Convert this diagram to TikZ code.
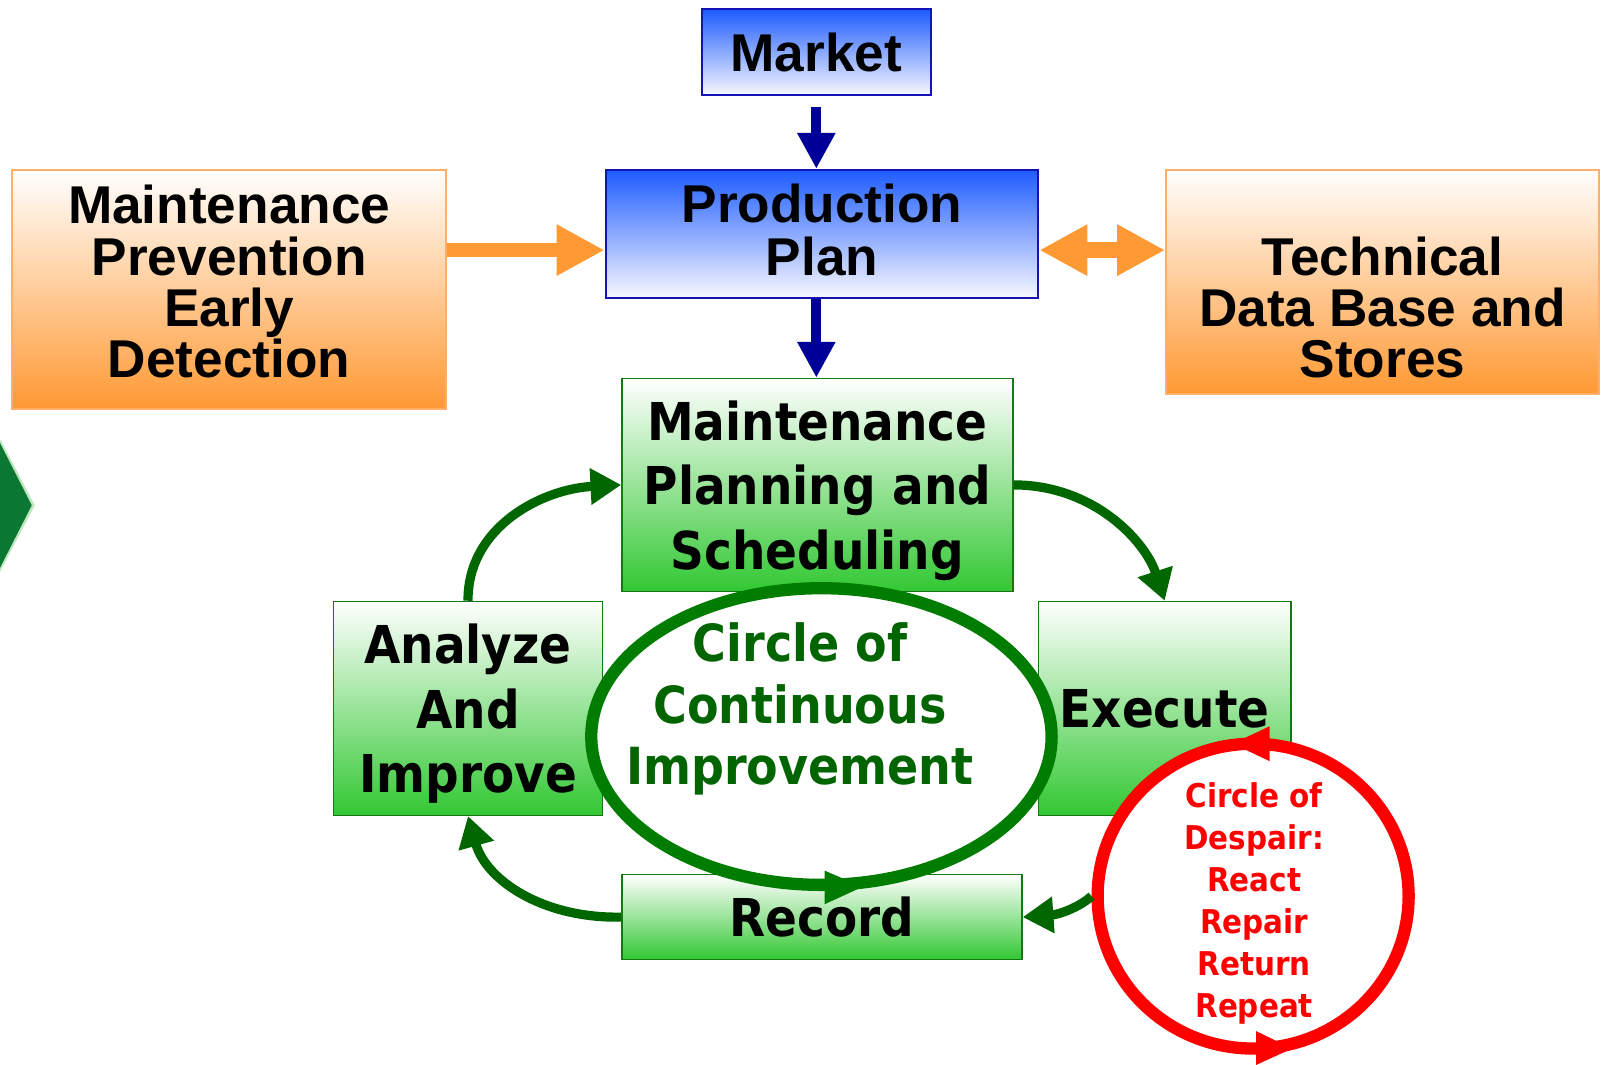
\documentclass[tikz,border=0pt]{standalone}
\usepackage{fontspec}
\setmainfont{Liberation Sans}
\newfontfamily\gfont[FakeStretch=0.9]{DejaVu Sans}
\usetikzlibrary{arrows.meta,shapes.geometric,calc,shadings}
\definecolor{btop}{RGB}{30,92,255}
\definecolor{bdr}{RGB}{20,20,180}
\definecolor{orng}{RGB}{255,153,51}
\definecolor{obdr}{RGB}{255,175,105}
\definecolor{gbot}{RGB}{50,200,50}
\definecolor{gbdr}{RGB}{20,120,20}
\definecolor{arrowgreen}{RGB}{0,102,0}
\definecolor{ellgreen}{RGB}{0,125,0}
\definecolor{ctext}{RGB}{0,100,0}
\definecolor{navy}{RGB}{0,0,153}
\definecolor{dgreen}{RGB}{10,120,50}
\begin{document}
\begin{tikzpicture}[x=1pt,y=-1pt,
  bluebox/.style={draw=bdr, line width=2pt, top color=btop, bottom color=white!97!blue, inner sep=0pt, align=center, font=\fontsize{52}{51}\selectfont\bfseries},
  orangebox/.style={draw=obdr, line width=2pt, top color=white, bottom color=orng, inner sep=0pt, align=center, font=\fontsize{52}{50}\selectfont\bfseries},
  greenbox/.style={draw=gbdr, line width=1.5pt, top color=white, bottom color=gbot, inner sep=0pt, align=center, text depth=0pt, font=\gfont\bfseries\fontsize{51}{63}\selectfont},
  navyarrow/.style={draw=navy, line width=10pt, -{Triangle[length=35pt,width=35pt]}},
  orangearrow/.style={draw=orng, line width=14pt, -{Triangle[length=47pt,width=47pt]}},
  garrow/.style={draw=arrowgreen, line width=9pt, -{Triangle[length=30pt,width=34pt]}},
  loopline/.style={line width=12pt, fill=white, ellipse, inner sep=0pt}
]
\useasboundingbox (0,0) rectangle (1567,1041);

% left partial diamond
\fill[green!60!black!25] (0,429) -- (34,494) -- (0,559) -- cycle;
\fill[dgreen] (0,433) -- (31,494) -- (0,555) -- cycle;

% boxes
\node[bluebox, minimum width=224pt, minimum height=84pt] (market) at (798,51) {Market};
\node[bluebox, minimum width=423pt, minimum height=125pt, text depth=8pt] (pp) at (803.5,228.5) {Production\\Plan};
\node[orangebox, minimum width=424pt, minimum height=234pt, text depth=16pt] (mpe) at (224,283) {Maintenance\\Prevention\\Early\\Detection};
\node[orangebox, minimum width=423pt, minimum height=219pt] (tdb) at (1351.5,275.5) {};
\node[font=\fontsize{52}{50}\selectfont\bfseries, align=center, inner sep=0pt] (tdbtext) at ($(tdb.center)+(0,25)$) {Technical\\Data Base and\\Stores};
\node[greenbox, minimum width=382pt, minimum height=208pt] (mps) at (799,474) {Maintenance\\Planning and\\Scheduling};
\node[greenbox, minimum width=263pt, minimum height=209pt] (ana) at (457.5,692.5) {Analyze\\And\\Improve};
\node[greenbox, minimum width=247pt, minimum height=209pt] (exe) at (1138.5,692.5) {Execute};
\node[greenbox, minimum width=391pt, minimum height=83pt] (rec) at (803.5,896.5) {Record};

% navy arrows
\draw[navyarrow, shorten <=11pt] (market.south) -- (market.south |- pp.north);
\draw[navyarrow] (market.south |- pp.south) -- (market.south |- mps.north);

% orange arrows
\coordinate (oa) at ($(pp.west)+(0,16)$);
\draw[orangearrow] (oa -| mpe.east) -- (oa);
\coordinate (ob) at ($(pp.east)+(0,16)$);
\draw[draw=orng, line width=16pt, {Triangle[length=47pt,width=47pt]}-{Triangle[length=47pt,width=47pt]}] (ob) -- (ob -| tdb.west);

% circle of continuous improvement
\node[loopline, draw=ellgreen, minimum width=450pt, minimum height=290pt] (cci) at (803,720) {};
\fill[ellgreen] (806,851) -- (843,867) -- (806,884) -- cycle;
\node[font=\gfont\bfseries\fontsize{50}{60}\selectfont, text=ctext, align=center, inner sep=0pt] (ccitext) at (782,693) {Circle of\\Continuous\\Improvement};

% green cycle arrows
\draw[garrow] (ana.north) .. controls (457,515) and (530,478) .. (mps.west);
\draw[garrow] (mps.east) .. controls (1070,474) and (1120,530) .. (exe.north);
\draw[garrow] (rec.west) .. controls (530,898) and (475,860) .. (ana.south);

% circle of despair
\node[loopline, draw=red, minimum width=304pt, minimum height=298pt] (cod) at (1225,876) {};
\fill[red] (1241,710) -- (1205,727) -- (1241,744) -- cycle;
\fill[red] (1228,1008) -- (1263,1025) -- (1228,1041) -- cycle;
\node[font=\gfont\bfseries\fontsize{32}{41}\selectfont, text=red, align=center, inner sep=0pt] (codtext) at (1226,883) {Circle of\\Despair:\\React\\Repair\\Return\\Repeat};
\draw[garrow] (cod.west) .. controls (1055,887) and (1035,894) .. (rec.east);
\end{tikzpicture}
\end{document}
